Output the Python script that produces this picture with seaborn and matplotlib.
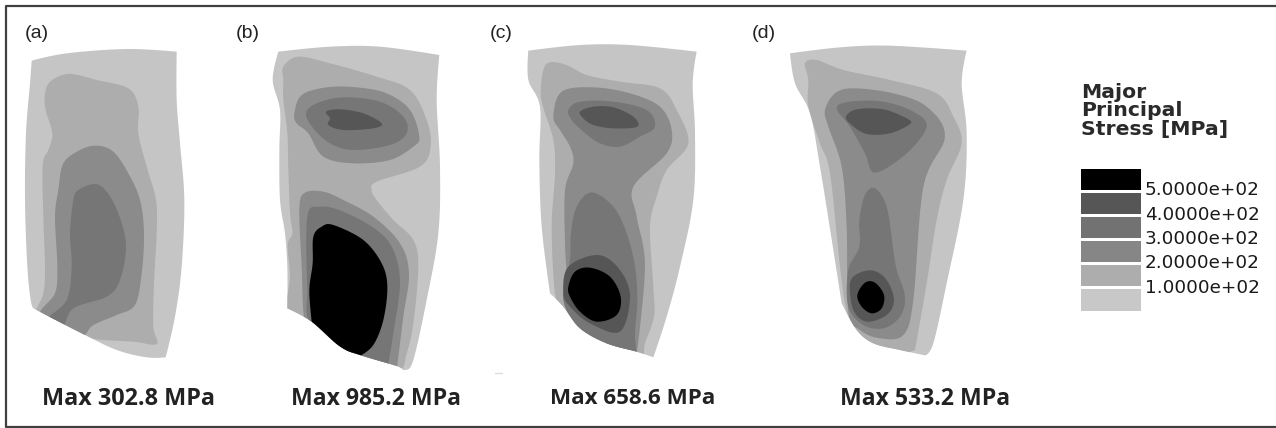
import numpy as np
import seaborn as sns
import matplotlib.pyplot as plt
from matplotlib.colors import ListedColormap
from matplotlib.patches import Polygon

# grey of each stress band, lowest to highest
band_greys = ['#c5c5c5', '#adadad', '#8b8b8b', '#767676', '#565656', '#000000']
legend_greys = ['#000000', '#565656', '#727272', '#868686', '#adadad', '#c8c8c8']
legend_ticks = ['5.0000e+02', '4.0000e+02', '3.0000e+02', '2.0000e+02', '1.0000e+02']
panel_labels = ['(a)', '(b)', '(c)', '(d)']
max_labels = ['Max 302.8 MPa', 'Max 985.2 MPa', 'Max 658.6 MPa', 'Max 533.2 MPa']
panel_offsets = [0, 230, 480, 740]

# outlines (pixels x3 inside each panel crop)
# a point given twice is a sharp corner
a_outer = [(95,182),(95,182),(200,160),(380,147),(530,155),(530,155),(530,300),(540,430),(553,600),(545,800),(525,950),(497,1072),(497,1072),(440,1072),(350,1050),(245,1000),(100,925),(100,925),(92,900),(82,800),(75,600),(78,400),(90,250)]
a_band2 = [(140,260),(170,232),(215,222),(290,240),(385,265),(415,320),(415,400),(440,500),(468,600),(470,700),(462,850),(460,980),(470,1032),(400,1025),(290,1018),(245,1000),(130,950),(105,940),(130,880),(135,800),(130,650),(128,495),(145,450),(157,400),(135,320)]
a_band3 = [(190,490),(240,450),(290,437),(340,455),(385,520),(420,600),(432,700),(425,820),(405,915),(350,945),(280,975),(235,1010),(120,950),(165,880),(172,800),(165,650),(175,570)]
a_band4 = [(235,570),(285,552),(320,575),(355,640),(378,735),(360,840),(320,890),(220,925),(185,985),(140,960),(200,900),(215,800),(210,700),(220,600)]

b_outer = [(145,155),(145,155),(300,140),(450,140),(628,165),(628,165),(620,300),(630,500),(625,700),(590,900),(550,1080),(525,1110),(500,1098),(390,1065),(330,1040),(245,965),(172,925),(172,925),(172,800),(165,700),(150,600),(148,450),(150,330),(128,240)]
b_band2 = [(160,200),(205,170),(300,190),(440,230),(540,270),(590,360),(602,440),(570,500),(440,545),(425,570),(440,600),(490,660),(550,720),(565,800),(550,970),(530,1060),(505,1110),(390,1075),(245,975),(172,935),(180,830),(173,735),(187,700),(180,640),(175,510),(172,400),(160,300),(160,240)]
b_band3_top = [(193,340),(215,285),(290,262),(380,262),(470,280),(540,330),(568,410),(550,440),(480,480),(370,490),(280,470),(235,400),(200,370)]
b_band4_top = [(228,340),(260,310),(340,292),(450,305),(520,350),(530,400),(480,435),(370,450),(300,430),(250,385)]
b_band5_top = [(288,335),(330,328),(400,340),(455,370),(430,385),(340,390),(295,375),(300,355)]
b_band3_low = [(208,625),(225,578),(280,575),(340,600),(430,650),(510,730),(537,820),(520,950),(500,1110),(500,1110),(390,1075),(245,975),(222,950),(215,800)]
b_band4_low = [(232,650),(270,620),(340,635),(440,690),(490,750),(510,850),(490,1000),(472,1110),(472,1110),(390,1075),(245,975),(232,860)]
b_black = [(250,710),(275,680),(310,675),(400,720),(455,790),(472,860),(460,960),(430,1035),(390,1068),(390,1068),(345,1050),(290,1010),(245,965),(245,965),(238,870),(248,790)]

c_outer = [(145,152),(145,152),(300,135),(450,135),(650,155),(650,155),(638,250),(645,400),(640,600),(600,800),(560,950),(520,1072),(520,1072),(470,1055),(380,1030),(300,985),(250,920),(210,880),(210,880),(185,680),(178,480),(180,320),(145,240)]
c_band2 = [(190,210),(210,187),(260,195),(320,225),(420,245),(540,265),(590,330),(625,430),(560,510),(530,590),(510,680),(520,860),(522,950),(495,1030),(490,1070),(470,1065),(380,1040),(300,995),(250,930),(225,880),(215,680),(225,520),(220,420),(192,330),(182,280)]
c_band3 = [(220,350),(245,275),(340,262),(450,280),(540,320),(575,390),(560,460),(460,560),(470,650),(495,800),(470,1065),(470,1065),(380,1040),(300,995),(265,900),(260,820),(255,730),(255,570),(280,490),(270,440),(240,390)]
c_band4_top = [(265,330),(300,305),(400,305),(500,330),(525,380),(480,410),(420,440),(360,430),(310,395),(275,360)]
c_band5_top = [(300,335),(340,320),(400,322),(460,350),(472,380),(400,385),(340,375),(310,355)]
c_band4_low = [(273,700),(290,620),(335,577),(400,620),(440,700),(465,800),(472,900),(465,1000),(470,1060),(470,1060),(380,1035),(300,990),(250,900),(270,780)]
c_band5_low = [(265,800),(355,765),(420,810),(450,890),(420,995),(330,970),(270,920),(250,880)]
c_black = [(265,860),(285,815),(330,803),(390,830),(422,890),(410,945),(350,965),(300,935),(270,890)]

d_outer = [(150,160),(150,160),(300,142),(450,137),(680,152),(680,152),(665,250),(680,400),(670,600),(620,850),(580,1030),(555,1066),(555,1066),(480,1050),(400,1030),(350,990),(305,910),(305,910),(280,750),(240,500),(210,340),(165,250)]
d_band2 = [(195,190),(230,180),(310,210),(450,240),(590,280),(640,350),(665,430),(620,540),(590,660),(560,850),(525,1050),(525,1050),(480,1060),(400,1040),(350,1000),(320,935),(300,800),(270,520),(240,430),(205,320),(205,240)]
d_band3 = [(255,330),(285,280),(340,265),(460,280),(560,320),(615,410),(550,560),(520,900),(490,1005),(420,1015),(360,990),(325,935),(320,680),(305,500),(265,380)]
d_band4_top = [(290,325),(330,305),(430,305),(520,335),(560,380),(500,460),(405,518),(375,460),(330,380)]
d_band5_top = [(318,350),(350,328),(430,328),(500,355),(510,372),(450,400),(380,402),(335,375)]
d_band4_low = [(358,660),(375,585),(405,565),(440,620),(460,750),(470,810),(495,890),(480,950),(430,985),(370,975),(325,920),(325,810),(358,740)]
d_band5_low = [(330,850),(355,820),(400,812),(440,840),(462,900),(440,945),(380,965),(340,930)]
d_black = [(352,885),(375,848),(405,848),(432,885),(425,925),(395,940),(365,920)]

# (outline, band index), painted in this order
panels = [
    [(a_outer,0),(a_band2,1),(a_band3,2),(a_band4,3)],
    [(b_outer,0),(b_band2,1),(b_band3_top,2),(b_band4_top,3),(b_band5_top,4),(b_band3_low,2),(b_band4_low,3),(b_black,5)],
    [(c_outer,0),(c_band2,1),(c_band3,2),(c_band4_top,3),(c_band5_top,4),(c_band4_low,3),(c_band5_low,4),(c_black,5)],
    [(d_outer,0),(d_band2,1),(d_band3,2),(d_band4_top,3),(d_band5_top,4),(d_band4_low,3),(d_band5_low,4),(d_black,5)],
]

def smooth(points, steps=8):
    # closed hermite curve through the traced points, no tangent at doubled points
    pts = np.array(points, dtype=float)
    prev, nxt = np.roll(pts, 1, axis=0), np.roll(pts, -1, axis=0)
    tan = 0.5*(nxt - prev)
    tan[(pts == prev).all(axis=1) | (pts == nxt).all(axis=1)] = 0
    tan2 = np.roll(tan, -1, axis=0)
    out = []
    for t in np.linspace(0, 1, steps, endpoint=False):
        out.append((2*t**3-3*t**2+1)*pts + (t**3-2*t**2+t)*tan + (3*t**2-2*t**3)*nxt + (t**3-t**2)*tan2)
    return np.stack(out, axis=1).reshape(-1, 2)

sns.set_theme(style='white')
plt.rcParams['font.family'] = ['Open Sans', 'DejaVu Sans']

fig = plt.figure(figsize=(12.76, 4.28), dpi=100)
ax = fig.add_axes([0, 0, 1, 1])
ax.set_xlim(0, 1276)
ax.set_ylim(428, 0)
ax.axis('off')

# frame round the whole figure, open on the right
ax.plot([1276, 6, 6, 1276], [6, 6, 426.5, 426.5], color='#404040', lw=1.6)

label_x = [25, 236, 490, 752]
max_x = [128, 376, 633, 925]
max_sizes = [16.8, 16.6, 16.1, 16.6]
for i, layers in enumerate(panels):
    off = panel_offsets[i]
    clip = None
    for j, (outline, band) in enumerate(layers):
        xy = smooth(np.array(outline, dtype=float) / 3 + [off, 0])
        patch = Polygon(xy, closed=True, fc=band_greys[band], ec='none')
        ax.add_patch(patch)
        if j == 0:
            clip = patch
        else:
            patch.set_clip_path(clip)
    ax.text(label_x[i], 33, panel_labels[i], fontsize=14, family='Liberation Sans', color='#222222', va='center')
    ax.text(max_x[i], 399, max_labels[i], fontsize=max_sizes[i], fontweight='bold', color='#222222', ha='center', va='center')

# small speck left in the scan below panel c
ax.plot([495, 502], [372.5, 372.5], color='#dddddd', lw=1)

# stress legend swatches
cax = fig.add_axes([1079/1276, 1 - 311.5/428, 63/1276, 144.5/428])
sns.heatmap(np.arange(6).reshape(6, 1), cmap=ListedColormap(legend_greys), cbar=False, linewidths=1,
            linecolor='white', xticklabels=False, yticklabels=False, ax=cax)

title_y = [92, 110.5, 129.5]
for y, line in zip(title_y, ['Major', 'Principal', 'Stress [MPa]']):
    ax.text(1081, y, line, fontsize=14.7, fontweight='bold', family='DejaVu Sans', color='#2a2a2a', va='center')
for k, tick in enumerate(legend_ticks):
    ax.text(1145, 190 + k*24.5, tick, fontsize=13.2, family='DejaVu Sans', color='#1a1a1a', va='center')

fig.savefig('out.png', dpi=100)
